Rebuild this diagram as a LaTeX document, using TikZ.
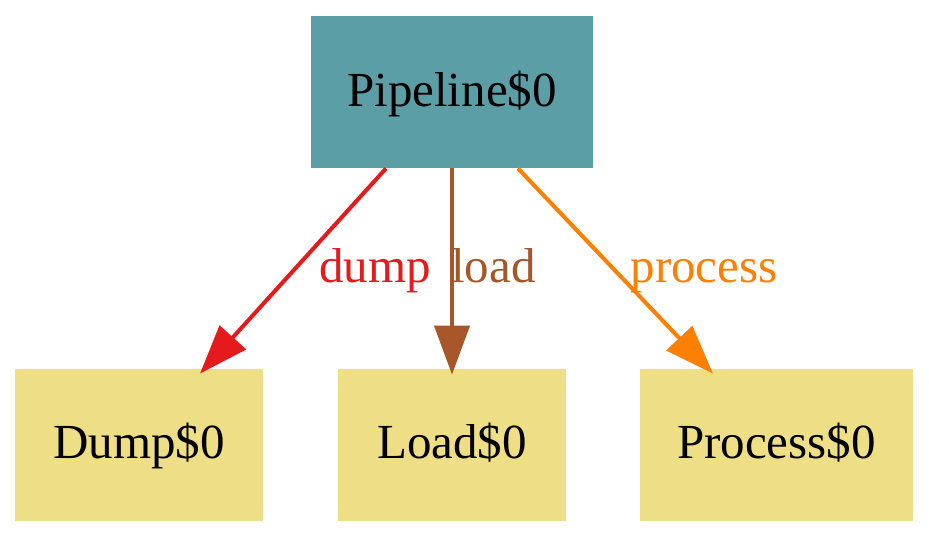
\documentclass[tikz,border=0pt]{standalone}
\usepackage{fontspec}
\setmainfont{Liberation Serif}
\usetikzlibrary{arrows.meta}
\definecolor{cteal}{HTML}{5B9EA5}
\definecolor{ckhaki}{HTML}{EEDE86}
\definecolor{cred}{HTML}{E41A1C}
\definecolor{cbrown}{HTML}{A65628}
\definecolor{corange}{HTML}{FF7F00}
\begin{document}
\begin{tikzpicture}[x=0.5pt,y=-0.5pt,
  every node/.style={font=\fontsize{24.5}{29}\selectfont, inner sep=0pt},
  box/.style={rectangle, minimum height=76pt},
  leaf/.style={box, fill=ckhaki, text height=15pt, text depth=1.7pt},
  edge/.style={line width=2pt, -{Triangle[length=24.5pt,width=17.5pt]}},
  lbl/.style={anchor=base}]
\useasboundingbox (0,0) rectangle (929,538);
\node[box, fill=cteal, minimum width=141pt, minimum height=76pt, text height=16pt, text depth=1.5pt] (pipe) at (452,92) {Pipeline\$0};
\node[leaf, minimum width=124pt] (dump) at (139,445) {Dump\$0};
\node[leaf, minimum width=114pt] (load) at (452,445) {Load\$0};
\node[leaf, minimum width=136.5pt] (proc) at (776.5,445) {Process\$0};
\draw[edge, cred] ([xshift=-33pt]pipe.south) -- ([xshift=30.5pt,yshift=-2.5pt]dump.north);
\draw[edge, cbrown] (pipe.south) -- ([yshift=-3pt]load.north);
\draw[edge, corange] ([xshift=33pt]pipe.south) -- ([xshift=-31.75pt,yshift=-2.5pt]proc.north);
\node[lbl, text=cred] (ldump) at (375,282) {dump};
\node[lbl, text=cbrown] (lload) at (493.5,282) {load};
\node[lbl, text=corange] (lproc) at (704,282) {process};
\end{tikzpicture}
\end{document}
